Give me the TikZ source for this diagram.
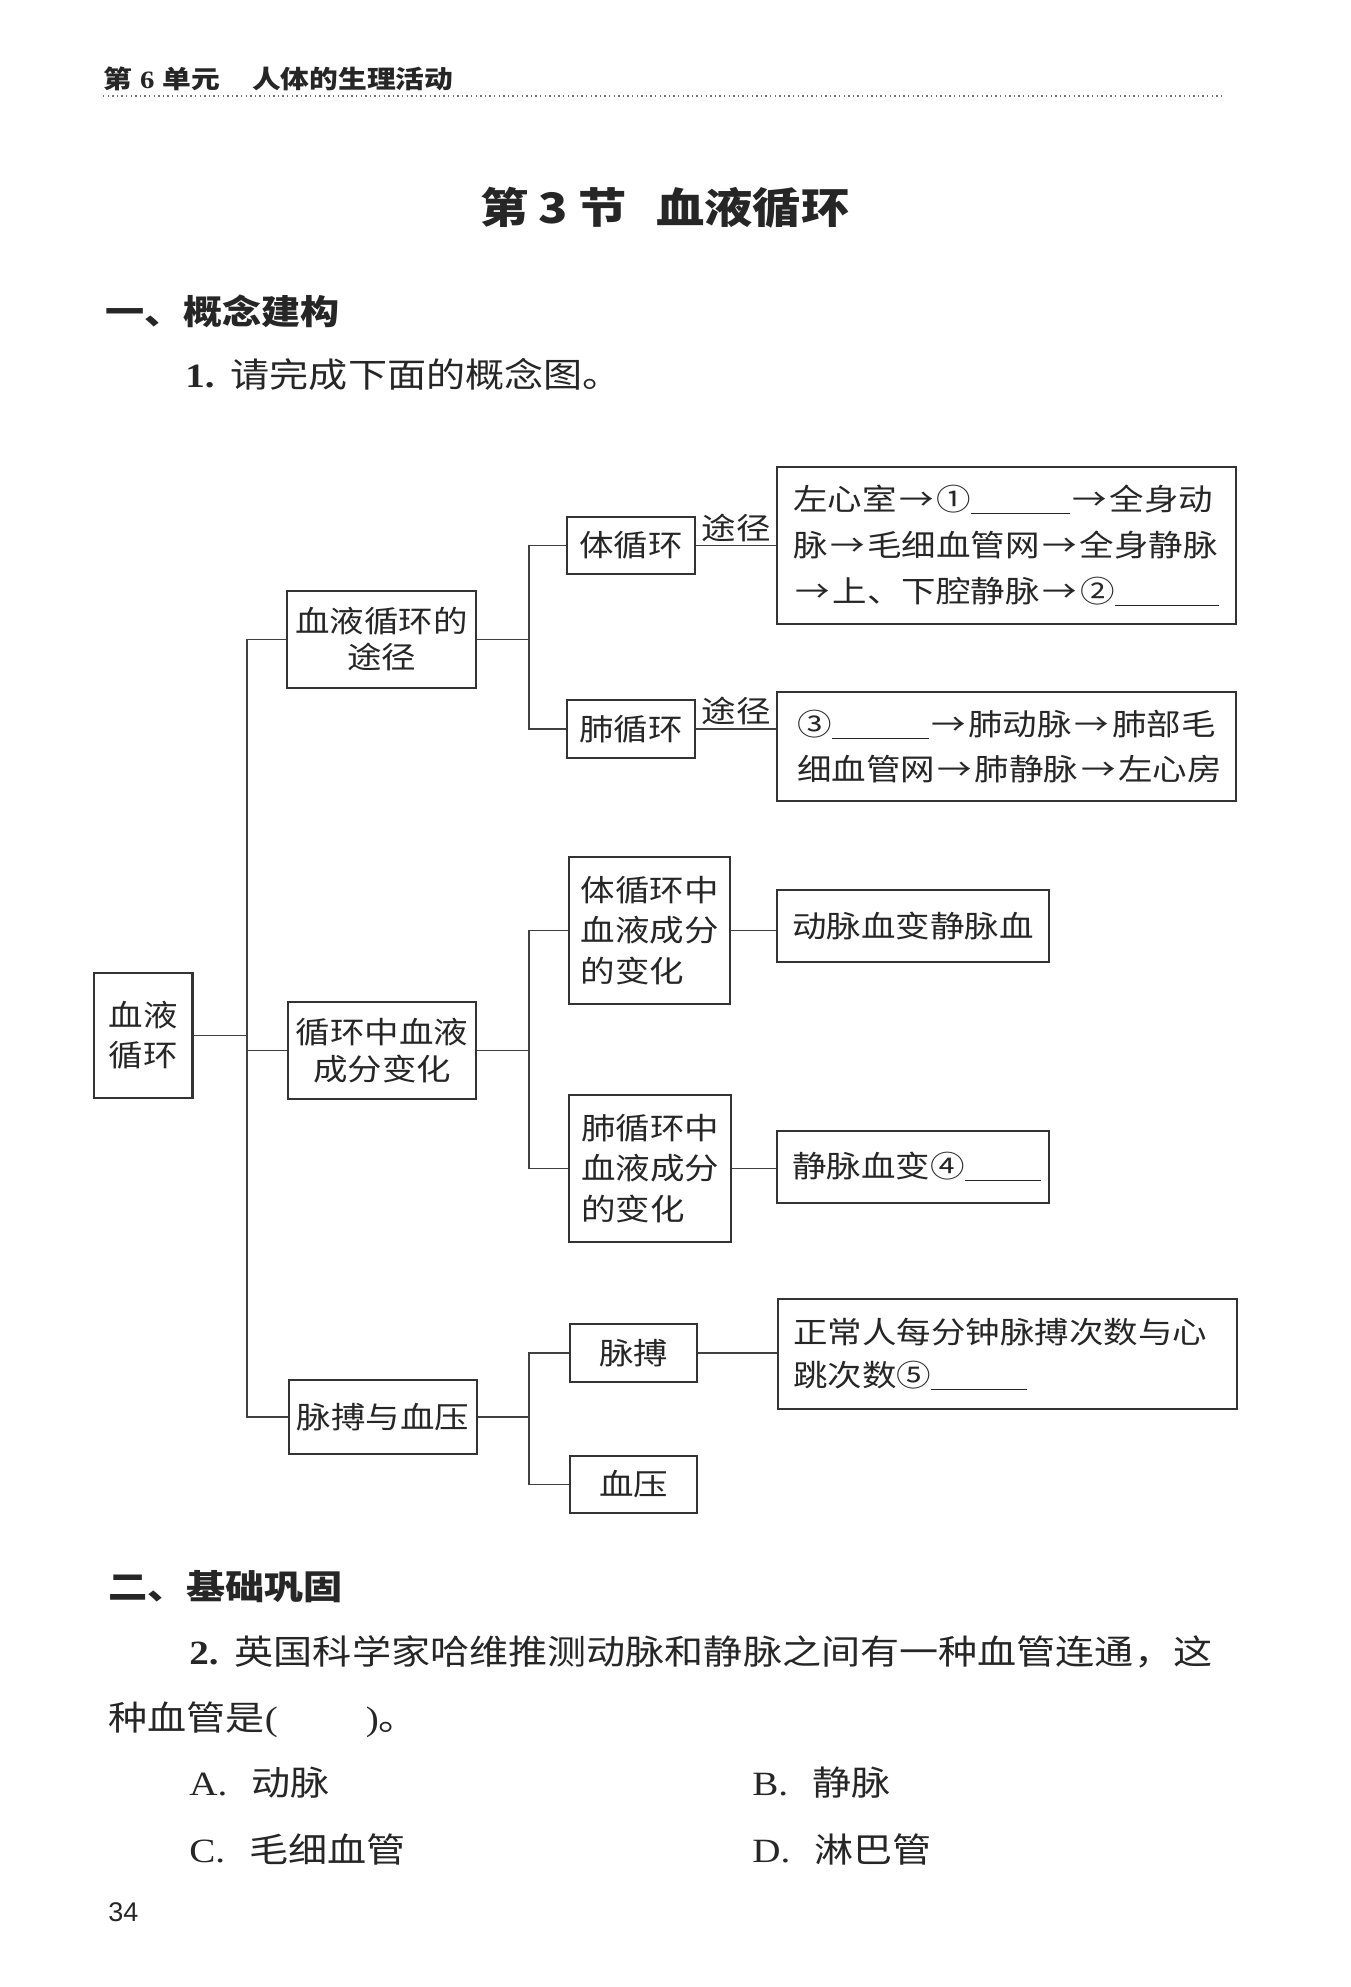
\documentclass[tikz,border=0pt]{standalone}
\usepackage{fontspec}
\setmainfont[FakeStretch=1.15]{Liberation Serif}
\setsansfont{Liberation Sans}
\newfontfamily\cjk[FakeStretch=1.15]{Noto Sans CJK SC}
\usetikzlibrary{positioning}
\newcommand\blankline[1]{\underline{\makebox[#1]{}}}
\newcommand\ra{\makebox[20pt]{→}}

\begin{document}
\begin{tikzpicture}[x=0.5pt,y=-0.5pt,
 box/.style={draw=black!80,line width=1.1pt,inner sep=0pt,text=black!85,
  font=\cjk\fontsize{15pt}{18pt}\selectfont,align=center},
 link/.style={draw=black!75,line width=0.7pt},
 way/.style={above,inner sep=1.5pt,text=black!85,font=\cjk\fontsize{15pt}{18pt}\selectfont},
 txt/.style={anchor=west,inner sep=0pt,text=black!85,font=\cjk\fontsize{17pt}{20pt}\selectfont},
 hd/.style={txt,font=\cjk\bfseries\fontsize{17pt}{20pt}\selectfont}]
\useasboundingbox (0,0) rectangle (1350,1987);
\fill[white] (0,0) rectangle (1350,1987);

\node[txt,font=\cjk\bfseries\fontsize{12.5pt}{15pt}\selectfont] (unit) at (103,79)
 {第\hspace{4pt}\textrm{\textbf{6}}\hspace{4pt}单元\hspace{16pt}人体的生理活动};
\draw[black!55,line width=0.7pt,dash pattern=on 0.7pt off 1.6pt] (103,96) -- (1221,96);
\node[inner sep=0pt,text=black!85,font=\cjk\bfseries\fontsize{21pt}{25pt}\selectfont] (title) at (665,207.5)
 {第\hspace{5pt}3\hspace{5pt}节\hspace{15pt}血液循环};
\node[hd] (sec1) at (105,311) {一、概念建构};
\node[txt] (q1) at (185,374.5) {\textrm{\textbf{1.}}\hspace{8pt}请完成下面的概念图。};

\node[box,minimum width=49.25pt,minimum height=62.5pt,font=\cjk\fontsize{15pt}{20pt}\selectfont] (xyxh) at (143.25,1035.5) {血液\\循环};
\node[box,minimum width=94.5pt,minimum height=48.5pt] (tujing) at (381.5,639.5) {血液循环的\\途径};
\node[box,minimum width=94pt,minimum height=48.5pt,font=\cjk\fontsize{15pt}{18.5pt}\selectfont] (chengfen) at (382,1050.5) {循环中血液\\成分变化};
\node[box,minimum width=94pt,minimum height=37pt] (maixy) at (383,1417) {脉搏与血压};

\node[box,minimum width=64pt,minimum height=28.5pt] (tixh) at (631,545.5) {体循环};
\node[box,minimum width=64pt,minimum height=29pt] (feixh) at (631,729) {肺循环};
\node[box,minimum width=80.5pt,minimum height=73.5pt,text width=69pt,align=left,font=\cjk\fontsize{15pt}{20.25pt}\selectfont] (tizhong) at (649.5,930.5) {体循环中\\血液成分\\的变化};
\node[box,minimum width=81pt,minimum height=73.5pt,text width=69pt,align=left,font=\cjk\fontsize{15pt}{20.25pt}\selectfont] (feizhong) at (650,1168.5) {肺循环中\\血液成分\\的变化};
\node[box,minimum width=63.5pt,minimum height=29pt] (maibo) at (633.5,1353) {脉搏};
\node[box,minimum width=63.5pt,minimum height=28.5pt] (xueya) at (633.5,1484.5) {血压};

\node[box,minimum width=229.5pt,minimum height=78.5pt,text width=213.5pt,align=left,font=\cjk\fontsize{15pt}{23pt}\selectfont] (ticl) at (1006.5,545.5)
 {左心室\ra①\blankline{49.5pt}\ra 全身动\\脉\ra 毛细血管网\ra 全身静脉\\\ra 上、下腔静脉\ra②\blankline{52pt}};
\node[box,minimum width=229.5pt,minimum height=54.5pt,text width=209.5pt,align=left,font=\cjk\fontsize{15pt}{22.5pt}\selectfont] (feicl) at (1006.5,746.5)
 {③\blankline{48.5pt}\ra 肺动脉\ra 肺部毛\\细血管网\ra 肺静脉\ra 左心房};
\node[box,minimum width=136pt,minimum height=36pt,text width=121pt,align=left] (dongmai) at (913,926) {动脉血变静脉血};
\node[box,minimum width=136pt,minimum height=36pt,text width=121pt,align=left] (jingmai) at (913,1167) {静脉血变④\blankline{38pt}};
\node[box,minimum width=229.5pt,minimum height=55pt,text width=214.5pt,align=left,font=\cjk\fontsize{15pt}{21.5pt}\selectfont] (maibotxt) at (1007.5,1354)
 {正常人每分钟脉搏次数与心\\跳次数⑤\blankline{48pt}};

\coordinate (s1) at (247,0);
\coordinate (s2) at (529,0);
\draw[link] (xyxh.east) -- (xyxh.east -| s1);
\draw[link] (tujing.west) -| (s1 |- maixy.west) -- (maixy.west);
\draw[link] (chengfen.west) -- (chengfen.west -| s1);
\draw[link] (tujing.east) -- (tujing.east -| s2);
\draw[link] (tixh.west) -| (s2 |- feixh.west) -- (feixh.west);
\draw[link] (chengfen.east) -- (chengfen.east -| s2);
\draw[link] (tizhong.west) -| (s2 |- feizhong.west) -- (feizhong.west);
\draw[link] (maixy.east) -- (maixy.east -| s2);
\draw[link] (maibo.west) -| (s2 |- xueya.west) -- (xueya.west);
\draw[link] (tixh.east) -- node[way]{途径} (tixh.east -| ticl.west);
\draw[link] (feixh.east) -- node[way]{途径} (feixh.east -| feicl.west);
\draw[link] (tizhong.east) -- (tizhong.east -| dongmai.west);
\draw[link] (feizhong.east) -- (feizhong.east -| jingmai.west);
\draw[link] (maibo.east) -- (maibo.east -| maibotxt.west);

\node[hd] (sec2) at (108,1587) {二、基础巩固};
\node[txt] (q2) at (189,1652) {\textrm{\textbf{2.}}\hspace{8pt}英国科学家哈维推测动脉和静脉之间有一种血管连通，这};
\node[txt] (q2b) at (108,1720) {种血管是\textrm{(}\hspace{44pt}\textrm{)}。};
\node[txt] (optA) at (189,1783) {\textrm{A.}\hspace{12pt}动脉};
\node[txt] (optB) at (752,1783) {\textrm{B.}\hspace{12pt}静脉};
\node[txt] (optC) at (189,1850) {\textrm{C.}\hspace{12pt}毛细血管};
\node[txt] (optD) at (752,1850) {\textrm{D.}\hspace{12pt}淋巴管};
\node[txt,font=\sffamily\fontsize{13.5pt}{16pt}\selectfont] (page) at (108,1912.5) {34};
\end{tikzpicture}
\end{document}
